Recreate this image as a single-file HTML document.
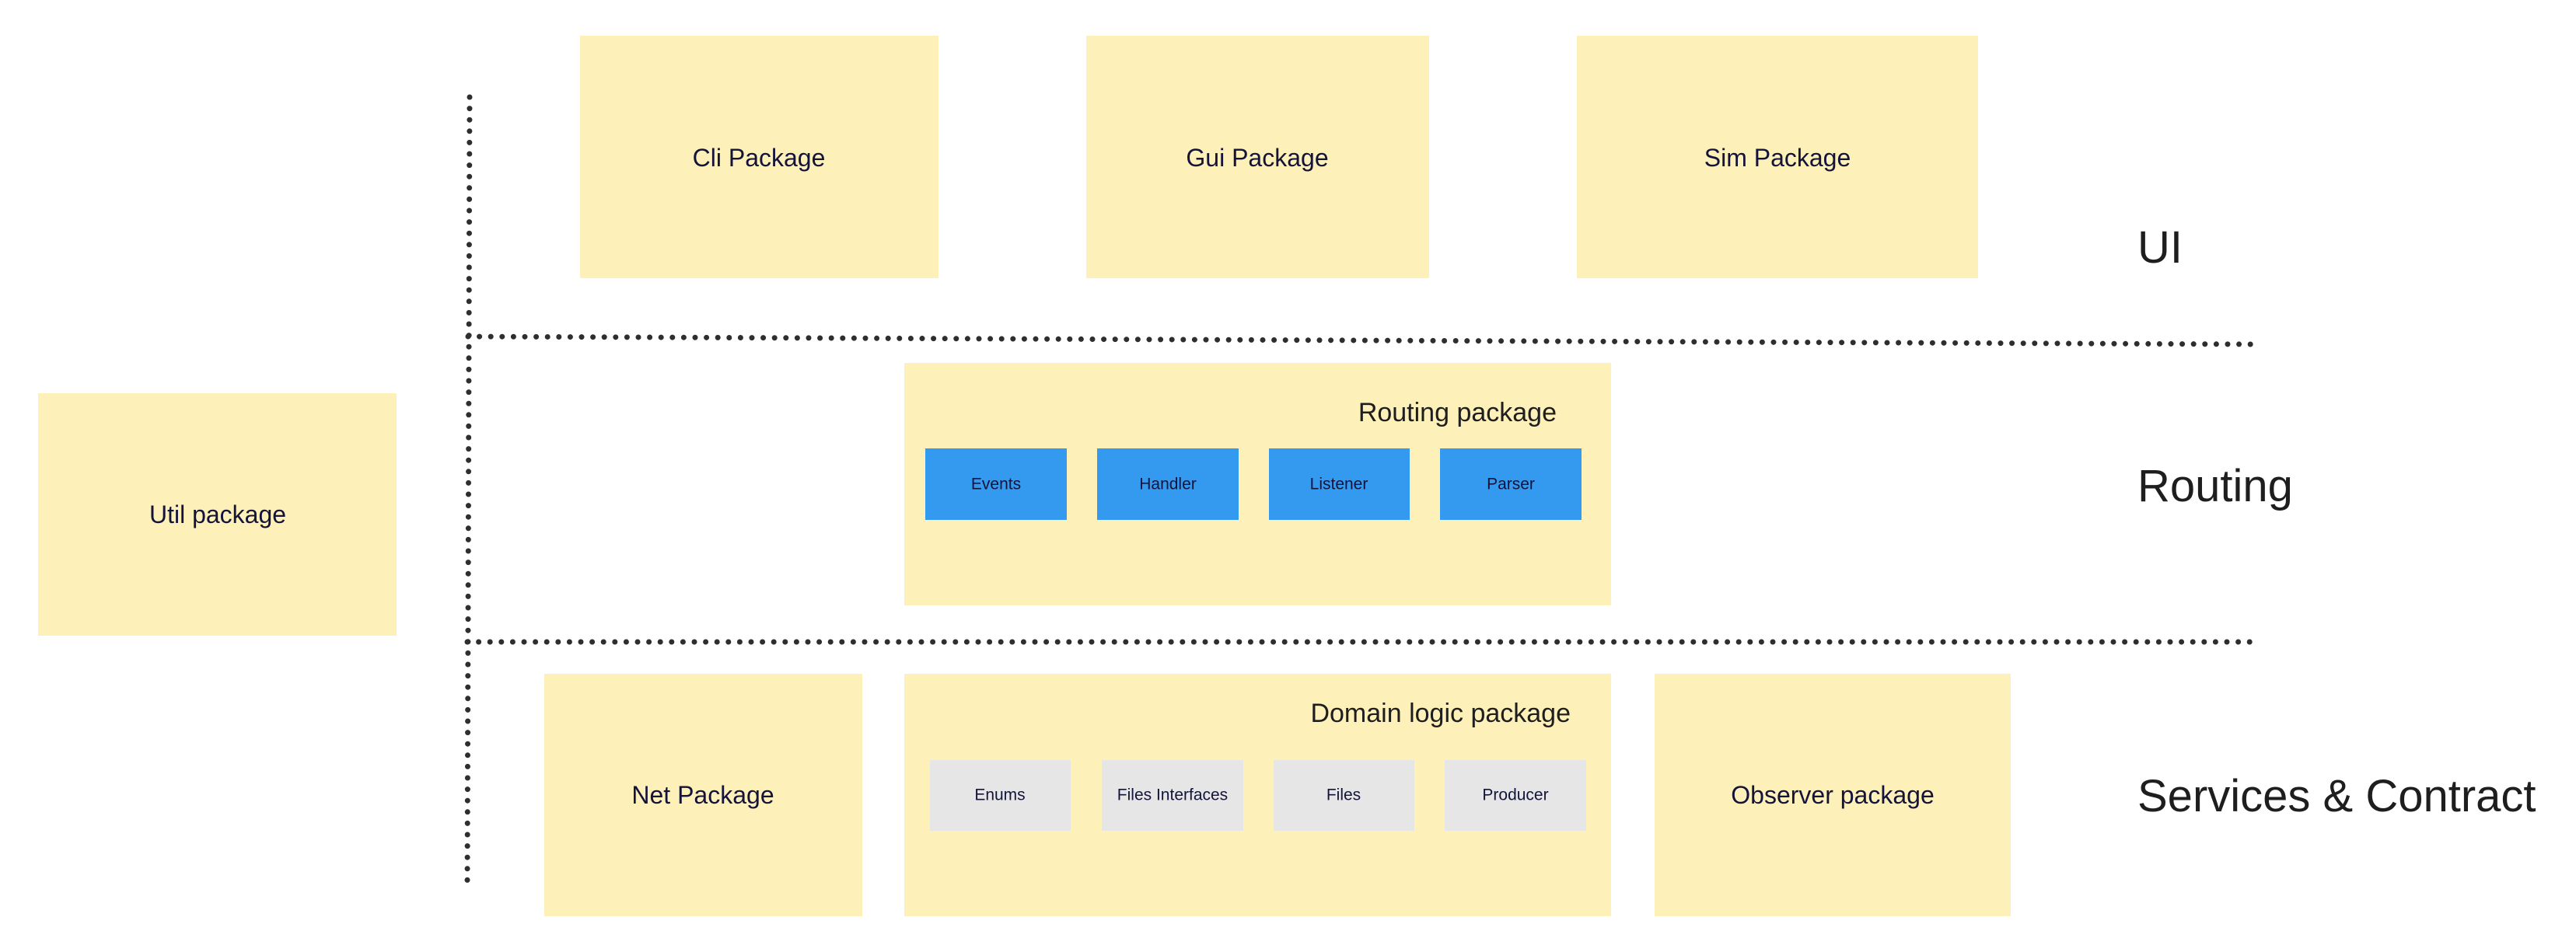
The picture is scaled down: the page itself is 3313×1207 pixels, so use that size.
<!DOCTYPE html>
<html><head><meta charset="utf-8"><style>
html,body{margin:0;padding:0;background:#fff;}
svg{display:block;}
.b{font-family:"Liberation Sans",Arial,sans-serif;fill:#14143a;}
.l{font-family:"Liberation Sans",Arial,sans-serif;fill:#1e1e1e;}
</style></head><body>
<svg width="3313" height="1207" viewBox="0 0 3313 1207" xmlns="http://www.w3.org/2000/svg">
<g fill="#fdf0b9">
<rect x="746" y="46" width="461" height="312"/>
<rect x="1397" y="46" width="441" height="312"/>
<rect x="2028" y="46" width="516" height="312"/>
<rect x="49" y="506" width="461" height="312"/>
<rect x="1163" y="467" width="909" height="312"/>
<rect x="700" y="867" width="409" height="312"/>
<rect x="1163" y="867" width="909" height="312"/>
<rect x="2128" y="867" width="458" height="312"/>
</g>
<g fill="#339af0">
<rect x="1190" y="577" width="182" height="92"/>
<rect x="1411" y="577" width="182" height="92"/>
<rect x="1632" y="577" width="181" height="92"/>
<rect x="1852" y="577" width="182" height="92"/>
</g>
<g fill="#e6e6e6">
<rect x="1196" y="978" width="181" height="91"/>
<rect x="1417" y="978" width="182" height="91"/>
<rect x="1638" y="978" width="181" height="91"/>
<rect x="1858" y="978" width="182" height="91"/>
</g>
<g stroke="#2e2e2e" stroke-width="7" stroke-linecap="round" stroke-dasharray="0 14.6" fill="none">
<line x1="604" y1="125" x2="601" y2="1136"/>
<line x1="602" y1="433" x2="2897" y2="443"/>
<line x1="601" y1="826" x2="2897" y2="826"/>
</g>
<g class="b" font-size="32" text-anchor="middle" dominant-baseline="central">
<text x="976" y="203">Cli Package</text>
<text x="1617" y="203">Gui Package</text>
<text x="2286" y="203">Sim Package</text>
<text x="280" y="662">Util package</text>
<text x="904" y="1023">Net Package</text>
<text x="2357" y="1023">Observer package</text>
</g>
<g class="b" font-size="21" text-anchor="middle" dominant-baseline="central">
<text x="1281" y="623">Events</text>
<text x="1502" y="623">Handler</text>
<text x="1722" y="623">Listener</text>
<text x="1943" y="623">Parser</text>
<text x="1286" y="1023">Enums</text>
<text x="1508" y="1023">Files Interfaces</text>
<text x="1728" y="1023">Files</text>
<text x="1949" y="1023">Producer</text>
</g>
<g class="l" font-size="34" text-anchor="end" dominant-baseline="central">
<text x="2002" y="531">Routing package</text>
<text x="2020" y="918">Domain logic package</text>
</g>
<g class="l" font-size="58">
<text x="2749" y="338">UI</text>
<text x="2749" y="645">Routing</text>
<text x="2749" y="1044">Services &amp; Contract</text>
</g>
</svg>
</body></html>
